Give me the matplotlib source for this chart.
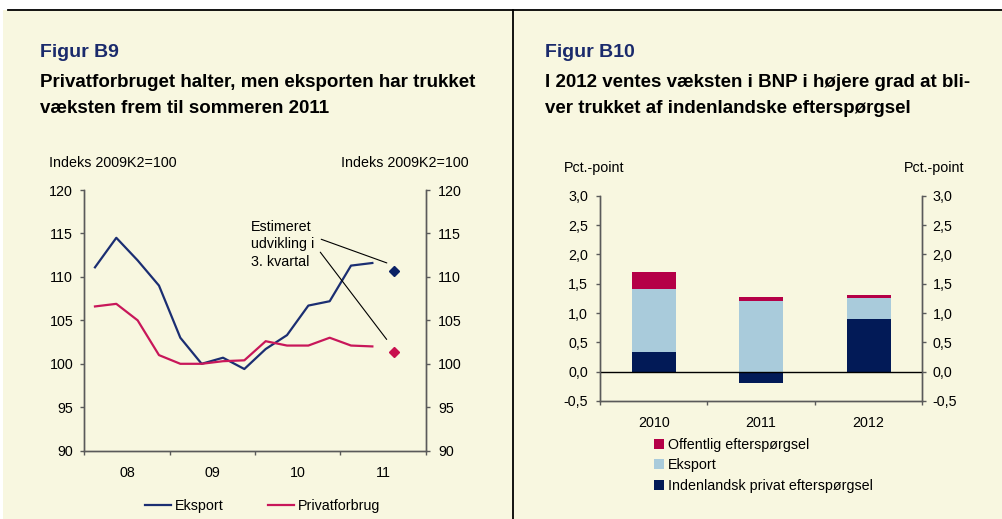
import matplotlib.pyplot as plt
import matplotlib.patches as mpatches
from matplotlib.lines import Line2D
from matplotlib.ticker import FuncFormatter

plt.rcParams['font.family'] = ['Liberation Sans', 'DejaVu Sans']

W, H = 1003, 519
BG = '#f8f7e0'
SPINE = '#5a5a5a'

# --- Figur B9 data (quarters 2008K1 - 2011K2, index 2009K2=100)
quarters = ['08K1', '08K2', '08K3', '08K4', '09K1', '09K2', '09K3', '09K4',
            '10K1', '10K2', '10K3', '10K4', '11K1', '11K2']
eksport = [111.1, 114.5, 111.9, 109.0, 103.0, 100.0, 100.7, 99.4,
           101.7, 103.3, 106.7, 107.2, 111.3, 111.6]
privatforbrug = [106.6, 106.9, 105.0, 101.0, 100.0, 100.0, 100.3, 100.4,
                 102.6, 102.1, 102.1, 103.0, 102.1, 102.0]
est_quarter = 14  # 2011K3
est_eksport = 110.7
est_privat = 101.4
year_labels = ['08', '09', '10', '11']

# --- Figur B10 data (bidrag til BNP-vaekst, pct.-point)
years = ['2010', '2011', '2012']
indenlandsk = [0.33, -0.20, 0.89]
eksport_bidrag = [1.08, 1.20, 0.37]
offentlig = [0.29, 0.07, 0.04]

NAVY = '#1b2e72'
CRIMSON = '#c8175a'
BAR_NAVY = '#021a57'
BAR_BLUE = '#a9cbdb'
BAR_RED = '#b50047'


def fx(x):
    return x / W


def fy(y):
    return 1 - y / H


fig = plt.figure(figsize=(W / 100, H / 100), dpi=100, facecolor='white')
fig.patches.append(mpatches.Rectangle((fx(3), 0), 1, fy(9.5), transform=fig.transFigure,
                                      facecolor=BG, edgecolor='none', zorder=-10))
fig.lines.append(Line2D([fx(8), 1], [fy(9.5), fy(9.5)], transform=fig.transFigure, color='black', lw=1.3))
fig.lines.append(Line2D([fx(513.3), fx(513.3)], [0, fy(9.5)], transform=fig.transFigure, color='black', lw=1.3))

# titles
TFS = 13.5
fig.text(fx(40), fy(57), 'Figur B9', fontsize=14, fontweight='bold', color='#1a2a6c')
fig.text(fx(40), fy(86.7), 'Privatforbruget halter, men eksporten har trukket', fontsize=TFS, fontweight='bold')
fig.text(fx(40), fy(113), 'væksten frem til sommeren 2011', fontsize=TFS, fontweight='bold')
fig.text(fx(545), fy(57), 'Figur B10', fontsize=14, fontweight='bold', color='#1a2a6c')
fig.text(fx(545), fy(86.7), 'I 2012 ventes væksten i BNP i højere grad at bli-', fontsize=TFS, fontweight='bold')
fig.text(fx(545), fy(113), 'ver trukket af indenlandske efterspørgsel', fontsize=TFS, fontweight='bold')

FS = 10.3


def style_axes(ax, ax2):
    for a in (ax, ax2):
        a.set_facecolor('none')
        a.spines['top'].set_visible(False)
        for s in ('left', 'right', 'bottom'):
            a.spines[s].set_color(SPINE)
            a.spines[s].set_linewidth(1.0)
        a.tick_params(axis='both', which='major', direction='out', length=3, width=1,
                      color=SPINE, labelsize=FS, pad=6)


# ---------------- left chart
ax = fig.add_axes([fx(84.3), fy(450.7), fx(425.7 - 84.3), (450.7 - 190) / H])
ax2 = ax.twinx()
style_axes(ax, ax2)
xpos = [i + 0.5 for i in range(len(quarters))]
ax.plot(xpos, eksport, color=NAVY, lw=1.6, label='Eksport')
ax.plot(xpos, privatforbrug, color=CRIMSON, lw=1.6, label='Privatforbrug')
ax.plot(est_quarter + 0.5, est_eksport, marker='D', ms=5, color='#0b2266', ls='none')
ax.plot(est_quarter + 0.5, est_privat, marker='D', ms=5, color='#c8104e', ls='none')
ax.set_xlim(0, 16)
ax.set_ylim(90, 120)
ax2.set_ylim(90, 120)
ax.set_yticks(range(90, 121, 5))
ax2.set_yticks(range(90, 121, 5))
ax.set_xticks([0, 4, 8, 12, 16])
ax.set_xticklabels([])
ax.set_xticks([2, 6, 10, 14], minor=True)
ax.set_xticklabels(year_labels, minor=True)
ax.tick_params(axis='x', which='minor', length=0, labelsize=FS, pad=11)
ax.tick_params(axis='y', pad=5)
ax2.tick_params(axis='y', pad=6)

ax.text(7.8, 116.6, 'Estimeret\nudvikling i\n3. kvartal', fontsize=FS, va='top', ha='left',
        linespacing=1.35)
ax.annotate('', xy=(est_quarter + 0.3, est_eksport + 0.8), xytext=(10.98, 114.44),
            arrowprops=dict(arrowstyle='-', color='black', lw=0.8))
ax.annotate('', xy=(est_quarter + 0.25, est_privat + 1.15), xytext=(10.98, 113.1),
            arrowprops=dict(arrowstyle='-', color='black', lw=0.8))

fig.text(fx(49), fy(167), 'Indeks 2009K2=100', fontsize=FS, va='baseline')
fig.text(fx(469), fy(167), 'Indeks 2009K2=100', fontsize=FS, va='baseline', ha='right')

leg = ax.legend(loc='center left', bbox_to_anchor=(fx(145), fy(505.7)), bbox_transform=fig.transFigure,
                ncol=2, frameon=False, fontsize=FS, handlelength=1.8, handletextpad=0.3,
                columnspacing=3.1, borderaxespad=0, borderpad=0)

# ---------------- right chart
bx = fig.add_axes([fx(600), fy(401), fx(922.3 - 600), (401 - 195.7) / H])
bx2 = bx.twinx()
style_axes(bx, bx2)
cat = list(range(len(years)))
bw = 0.41
b1 = bx.bar(cat, indenlandsk, width=bw, color=BAR_NAVY, label='Indenlandsk privat efterspørgsel', zorder=2)
pos_base = [max(v, 0) for v in indenlandsk]
b2 = bx.bar(cat, eksport_bidrag, width=bw, bottom=pos_base, color=BAR_BLUE, label='Eksport', zorder=2)
top2 = [p + e for p, e in zip(pos_base, eksport_bidrag)]
b3 = bx.bar(cat, offentlig, width=bw, bottom=top2, color=BAR_RED, label='Offentlig efterspørgsel', zorder=2)
bx.axhline(0, color='black', lw=1.0, zorder=3)
bx.set_xlim(-0.5, 2.5)
bx.set_ylim(-0.5, 3.0)
bx2.set_ylim(-0.5, 3.0)
ticks = [-0.5, 0, 0.5, 1.0, 1.5, 2.0, 2.5, 3.0]
comma = FuncFormatter(lambda v, p: f'{v:.1f}'.replace('.', ','))
for a in (bx, bx2):
    a.set_yticks(ticks)
    a.yaxis.set_major_formatter(comma)
bx.set_xticks([-0.5, 0.5, 1.5, 2.5])
bx.set_xticklabels([])
bx.set_xticks(cat, minor=True)
bx.set_xticklabels(years, minor=True)
bx.tick_params(axis='x', which='minor', length=0, labelsize=FS, pad=11)
bx.tick_params(axis='y', pad=5.5)
bx2.tick_params(axis='y', pad=4.5)

fig.text(fx(564), fy(172), 'Pct.-point', fontsize=FS, va='baseline')
fig.text(fx(964), fy(172), 'Pct.-point', fontsize=FS, va='baseline', ha='right')

bx.legend(handles=[b3, b2, b1], loc='upper left', bbox_to_anchor=(fx(654), fy(438)),
          bbox_transform=fig.transFigure, frameon=False, fontsize=FS, handlelength=0.7,
          handleheight=0.7, handletextpad=0.3, labelspacing=0.45, borderaxespad=0, borderpad=0)

fig.savefig('out.png', dpi=100, facecolor='white')
